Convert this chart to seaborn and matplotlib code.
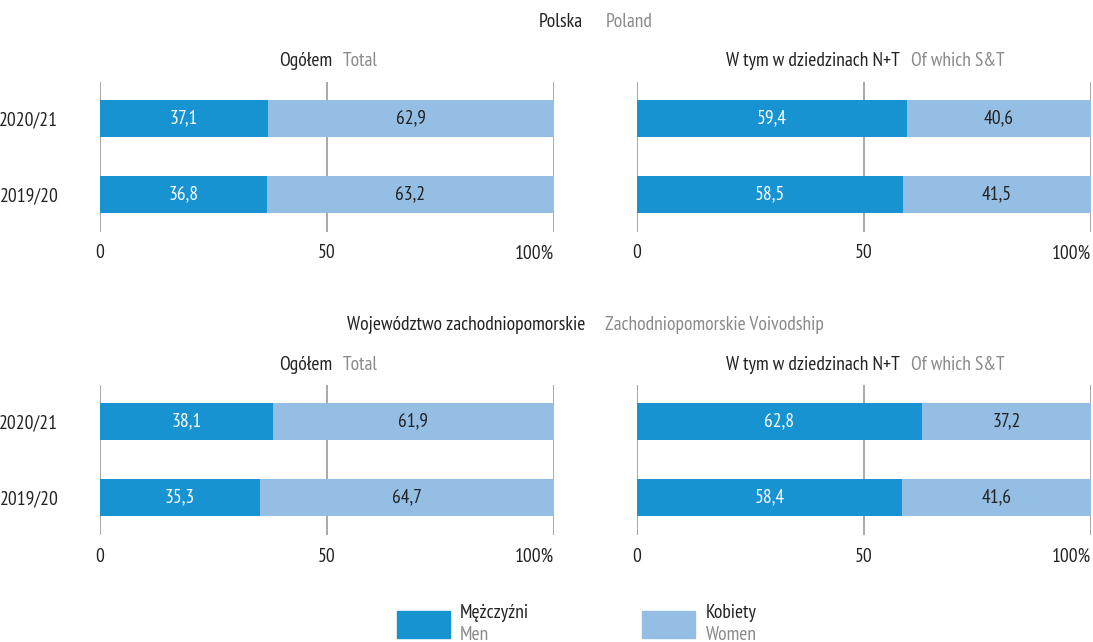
import matplotlib
matplotlib.use("Agg")
import matplotlib.pyplot as plt
import seaborn as sns
import pandas as pd
from matplotlib.patches import Rectangle
from matplotlib import font_manager as fm

sns.set_theme(style="white")
_avail = {f.name for f in fm.fontManager.ttflist}
_pref = ["PT Sans Narrow", "Roboto Condensed", "Fira Sans Condensed", "Archivo Narrow",
         "Liberation Sans Narrow", "Open Sans Condensed", "Barlow Condensed"]
_font = next((f for f in _pref if f in _avail), "DejaVu Sans")
plt.rcParams['font.family'] = [_font, 'DejaVu Sans']

years = ["2020/21", "2019/20"]
men_pl_total = [37.1, 36.8]
men_pl_st = [59.4, 58.5]
men_zp_total = [38.1, 35.3]
men_zp_st = [62.8, 58.4]
women_pl_total = [62.9, 63.2]
women_pl_st = [40.6, 41.5]
women_zp_total = [61.9, 64.7]
women_zp_st = [37.2, 41.6]
ticks = [0, 50, 100]
tick_labels = ["0", "50", "100%"]

MEN = "#1793D1"
WOMEN = "#94BEE3"
GRID = "#9a9a9a"
DARK = "#222222"
GRAY = "#8a8a8a"
FS = 14

fig = plt.figure(figsize=(10.93, 6.42), dpi=100)
W, H = 1093, 642

def ax_at(x0, x1, ytop, ybot):
    return fig.add_axes([x0 / W, 1 - ybot / H, (x1 - x0) / W, (ybot - ytop) / H])

def fmt(v):
    return f"{v:.1f}".replace(".", ",")

def panel(ax, men, women, show_years):
    df = pd.DataFrame({"year": years, "men": men, "women": women})
    df["total"] = df["men"] + df["women"]
    sns.barplot(data=df, y="year", x="total", color=WOMEN, ax=ax, width=0.49,
                saturation=1, orient="h", order=years, linewidth=0)
    sns.barplot(data=df, y="year", x="men", color=MEN, ax=ax, width=0.49,
                saturation=1, orient="h", order=years, linewidth=0)
    for i, (m, w) in enumerate(zip(men, women)):
        ax.text(m / 2, i, fmt(m), ha="center", va="center", color="white", fontsize=FS)
        ax.text(m + w / 2, i, fmt(w), ha="center", va="center", color=DARK, fontsize=FS)
    ax.set_xlim(0, 100)
    ax.set_ylim(1.49, -0.48)
    for t in ticks:
        ax.axvline(t, color=GRID, lw=1.2, zorder=0)
    ax.set_xticks(ticks)
    ax.set_xticklabels(tick_labels, fontsize=FS, color=DARK)
    ax.get_xticklabels()[-1].set_horizontalalignment("right")
    ax.tick_params(axis="x", length=0, pad=9)
    ax.tick_params(axis="y", length=0, pad=30)
    ax.set_xlabel("")
    ax.set_ylabel("")
    if show_years:
        ax.set_yticks([0, 1])
        ax.set_yticklabels(years, fontsize=FS, color=DARK)
    else:
        ax.set_yticks([])
    for s in ax.spines.values():
        s.set_visible(False)
    ax.set_axisbelow(True)
    ax.patch.set_alpha(0)

def pair_title(xr, xl, y, a, b):
    fig.text(xr / W, 1 - y / H, a, ha="right", va="center", color=DARK, fontsize=FS)
    fig.text(xl / W, 1 - y / H, b, ha="left", va="center", color=GRAY, fontsize=FS)

# top row
a1 = ax_at(100, 554, 82, 232)
panel(a1, men_pl_total, women_pl_total, True)
a2 = ax_at(637, 1091, 82, 232)
panel(a2, men_pl_st, women_pl_st, False)
# bottom row
a3 = ax_at(100, 554, 385, 535)
panel(a3, men_zp_total, women_zp_total, True)
a4 = ax_at(637, 1091, 385, 535)
panel(a4, men_zp_st, women_zp_st, False)

pair_title(583, 606, 22, "Polska", "Poland")
pair_title(332, 343, 61, "Ogółem", "Total")
pair_title(900, 911, 61, "W tym w dziedzinach N+T", "Of which S&T")
pair_title(585, 605, 325, "Województwo zachodniopomorskie", "Zachodniopomorskie Voivodship")
pair_title(332, 343, 365, "Ogółem", "Total")
pair_title(900, 911, 365, "W tym w dziedzinach N+T", "Of which S&T")

# legend
fig.patches.append(Rectangle((397 / W, 1 - 638 / H), 53 / W, 27 / H, color=MEN, transform=fig.transFigure))
fig.patches.append(Rectangle((642 / W, 1 - 638 / H), 53 / W, 27 / H, color=WOMEN, transform=fig.transFigure))
fig.text(460 / W, 1 - 613 / H, "Mężczyźni", ha="left", va="center", color=DARK, fontsize=FS)
fig.text(460 / W, 1 - 635 / H, "Men", ha="left", va="center", color=GRAY, fontsize=FS)
fig.text(706 / W, 1 - 613 / H, "Kobiety", ha="left", va="center", color=DARK, fontsize=FS)
fig.text(706 / W, 1 - 635 / H, "Women", ha="left", va="center", color=GRAY, fontsize=FS)

fig.savefig("out.png", dpi=100)
